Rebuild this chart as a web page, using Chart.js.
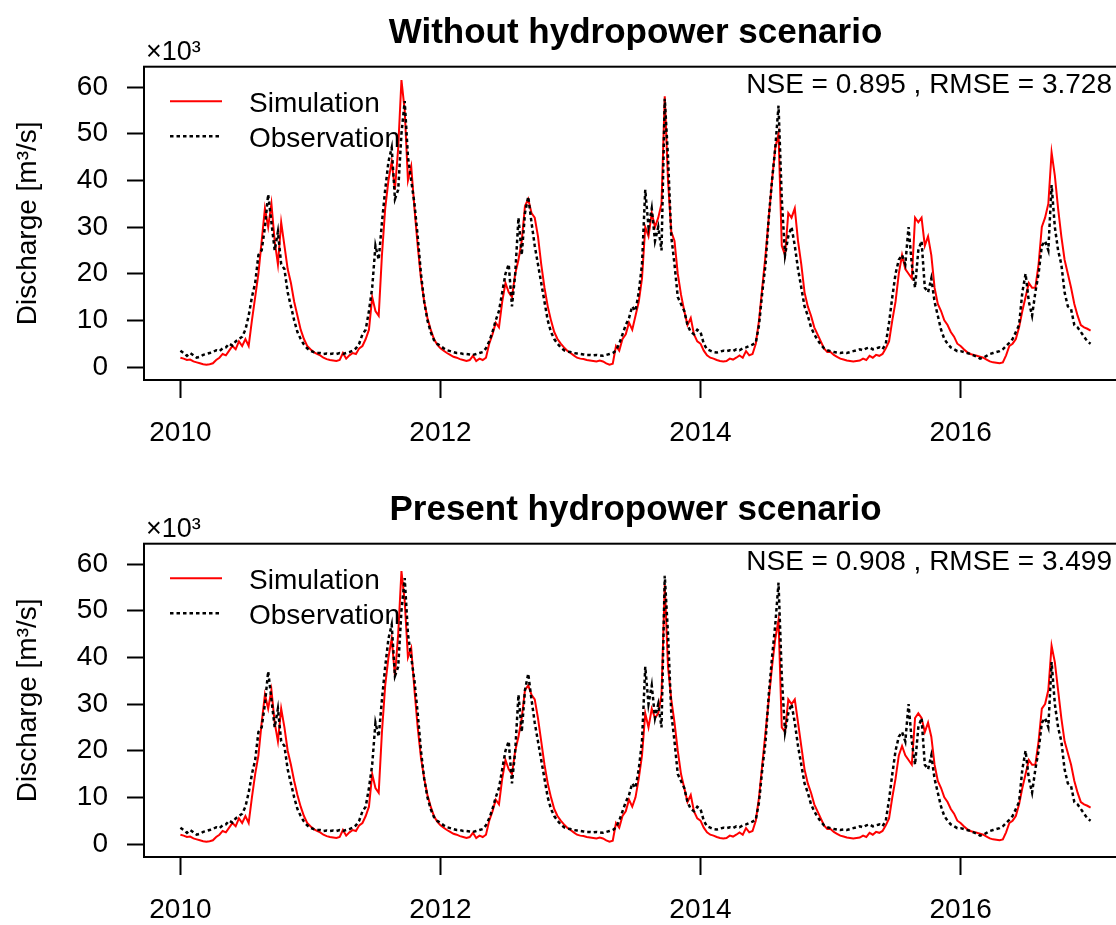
<!DOCTYPE html>
<html>
<head>
<meta charset="utf-8">
<script src="https://cdn.jsdelivr.net/npm/chart.js@4.4.1/dist/chart.umd.min.js"></script>
<style>
  html, body { margin: 0; padding: 0; background: #fff; overflow: hidden; width: 1116px; height: 925px; }
  canvas { position: absolute; left: 0; }
  #topChart { top: 0; }
  #bottomChart { top: 477px; }
</style>
</head>
<body>
<canvas id="topChart" width="1160" height="450"></canvas>
<canvas id="bottomChart" width="1160" height="450"></canvas>
<script>
// discharge in 10^3 m3/s, 40 samples per year from 2010.0, last value is 2017.0
const startYear = 2010;
const samplesPerYear = 40;

const observation = [
  // 2010
  3.5, 3.0, 2.4, 3.0, 2.5, 2.0, 2.2, 2.6, 2.8, 3.0, 3.2, 3.6, 3.4, 4.0, 4.2, 5.0, 4.6, 5.5, 6.0, 6.5,
  8.0, 11, 15, 18, 24, 25, 30, 37, 31, 25, 29, 22, 21, 16, 13, 10, 7.5, 6.0, 4.8, 4.0,
  // 2011
  3.5, 3.2, 3.0, 3.0, 2.8, 2.9, 2.8, 2.9, 2.8, 3.0, 2.8, 3.0, 3.2, 3.5, 4.0, 5.0, 7.0, 8.0, 12, 17,
  26, 23, 31, 38, 44, 47, 36, 38, 50, 57, 45, 40, 35, 28, 20, 14, 10, 7.5, 5.8, 5.0,
  // 2012
  4.5, 4.0, 3.6, 3.4, 3.2, 3.0, 3.0, 2.8, 2.8, 2.7, 2.6, 2.8, 3.0, 3.2, 4.0, 5.5, 7.5, 10, 12, 16,
  20, 22, 13, 20, 32, 24, 33, 36.5, 31, 26, 22, 18, 14, 10, 7.5, 6.0, 5.0, 4.2, 3.6, 3.3,
  // 2013
  3.2, 3.0, 2.9, 2.8, 2.7, 2.6, 2.6, 2.5, 2.6, 2.5, 2.4, 2.6, 2.8, 3.0, 3.5, 5.0, 7.0, 9.0, 10.5, 13,
  12, 16, 22, 38, 30, 34, 27, 30, 25, 57.5, 45, 28, 22, 15, 13.5, 12, 9, 7.5, 7.0, 8.0,
  // 2014
  7.5, 5.0, 3.8, 3.5, 3.2, 3.1, 3.3, 3.5, 3.4, 3.6, 3.4, 3.8, 3.6, 4.0, 4.2, 4.5, 4.8, 5.2, 9.0, 16,
  22, 32, 40, 47, 56, 36, 24, 28, 30, 26, 21, 17, 13, 11, 8.5, 7.0, 5.8, 4.8, 4.0, 3.6,
  // 2015
  3.4, 3.2, 3.1, 3.0, 3.1, 3.0, 3.2, 3.4, 3.6, 3.8, 3.6, 4.0, 4.2, 3.8, 4.0, 4.2, 3.8, 5.0, 9.5, 15,
  20, 23, 24, 22, 30, 22, 17, 25, 27, 17, 16, 19, 14, 11, 8, 6, 5, 4.2, 3.8, 3.4,
  // 2016
  3.4, 3.2, 3.0, 2.8, 2.5, 2.2, 1.8, 2.0, 2.4, 2.8, 3.0, 3.2, 3.4, 3.8, 4.5, 5.2, 6.0, 7.5, 9.0, 16,
  20, 14, 11, 16, 20, 26, 27, 25, 39, 30, 25, 22, 16, 13, 12.4, 9, 8.5, 7.5, 6.5, 5.5,
  // 2017
  5.0
];

const simWithout = [
  // 2010
  2.0, 1.8, 1.5, 1.6, 1.2, 1.0, 0.8, 0.6, 0.5, 0.6, 0.8, 1.5, 2.0, 2.8, 2.5, 3.5, 4.5, 3.8, 5.5, 4.5,
  6.0, 4.5, 10, 15, 20, 27, 34, 30, 35, 27, 22, 31, 26, 21, 18, 14, 11, 8, 6, 4.5,
  // 2011
  3.8, 3.2, 2.8, 2.5, 2.0, 1.7, 1.5, 1.4, 1.3, 1.5, 3.0, 1.8, 2.5, 3.0, 2.8, 4.0, 4.5, 6.0, 8.0, 15,
  12, 11, 24, 34, 40, 44, 38, 47, 61.5, 55, 40, 43, 34, 26, 19, 14, 10.5, 8, 6, 4.8,
  // 2012
  4.0, 3.5, 3.0, 2.6, 2.2, 2.0, 1.7, 1.5, 1.3, 1.5, 2.4, 1.3, 1.8, 1.5, 2.0, 5.0, 7.0, 9.5, 8.5, 14,
  18, 16, 15, 20, 23, 27, 34.5, 36, 33, 32, 28, 22, 17, 13, 10, 7.5, 6, 5, 4.2, 3.5,
  // 2013
  3.0, 2.5, 2.0, 1.8, 1.7, 1.5, 1.4, 1.3, 1.2, 1.4, 1.2, 0.8, 0.5, 0.7, 4.5, 3.5, 6.0, 7.0, 9.5, 8.0,
  11, 14, 19, 30, 28, 33, 30, 32, 35, 58, 40, 29, 27, 20, 15.5, 12, 9, 10.5, 7, 5.5,
  // 2014
  5.0, 3.5, 2.5, 2.0, 1.8, 1.5, 1.3, 1.2, 1.3, 1.8, 1.6, 2.0, 2.5, 2.0, 3.4, 2.5, 2.8, 5.0, 10, 17,
  24, 32, 40, 47, 50, 26, 24, 33, 32, 34, 27, 22, 16, 13, 11, 8.5, 7, 5.5, 4.0, 3.2,
  // 2015
  3.2, 2.6, 2.2, 1.8, 1.6, 1.4, 1.3, 1.2, 1.3, 1.4, 1.8, 1.5, 2.4, 2.0, 2.6, 2.4, 2.8, 4.0, 5.5, 10,
  14, 20, 24, 21, 20, 19, 32, 31, 32, 26, 28, 24, 17, 13.5, 12, 10, 9, 7.5, 6.5, 5,
  // 2016
  4.5, 3.8, 3.2, 2.8, 2.6, 2.4, 2.2, 2.0, 1.6, 1.2, 1.0, 0.9, 0.8, 1.0, 2.5, 4.5, 5.0, 6.0, 8.5, 12,
  15, 18, 17, 17, 22, 30, 32, 35, 46, 41, 34, 28, 23, 20, 17, 13.5, 11, 9, 8.5, 8.2,
  // 2017
  7.8
];

const simPresent = [
  // 2010
  2.0, 1.8, 1.5, 1.6, 1.2, 1.0, 0.8, 0.6, 0.5, 0.6, 0.8, 1.5, 2.0, 2.8, 2.5, 3.5, 4.5, 3.8, 5.5, 4.5,
  6.0, 4.5, 10, 15, 19, 26, 32, 29, 33, 26, 22, 29, 25, 20, 17, 13.5, 10.5, 8, 6, 4.5,
  // 2011
  3.8, 3.2, 2.8, 2.5, 2.0, 1.7, 1.5, 1.4, 1.3, 1.5, 3.0, 1.8, 2.5, 3.0, 2.8, 4.0, 4.5, 6.0, 8.0, 15,
  12, 11, 24, 34, 40, 44, 36, 45, 58.5, 52, 40, 42, 33, 25, 18.5, 14, 10.5, 8, 6, 4.8,
  // 2012
  4.0, 3.5, 3.0, 2.6, 2.2, 2.0, 1.7, 1.5, 1.3, 1.5, 2.4, 1.3, 1.8, 1.5, 2.0, 5.0, 7.0, 9.5, 8.5, 14,
  18, 16, 15, 20, 23, 27, 33, 34, 32, 31, 27, 22, 17, 13, 10, 7.5, 6, 5, 4.2, 3.5,
  // 2013
  3.0, 2.5, 2.0, 1.8, 1.7, 1.5, 1.4, 1.3, 1.2, 1.4, 1.2, 0.8, 0.5, 0.7, 4.5, 3.5, 6.0, 7.0, 9.5, 8.0,
  10, 14, 19, 28, 25, 29, 27, 28, 32, 55.5, 38, 31, 26, 20, 15, 12, 9, 10.5, 7, 5.5,
  // 2014
  5.0, 3.5, 2.5, 2.0, 1.8, 1.5, 1.3, 1.2, 1.3, 1.8, 1.6, 2.0, 2.5, 2.0, 3.4, 2.5, 2.8, 5.0, 10, 17,
  24, 31, 38, 44, 48, 25, 24, 31, 30, 31, 26, 21, 16, 13, 11, 8.5, 7, 5.5, 4.0, 3.2,
  // 2015
  3.2, 2.6, 2.2, 1.8, 1.6, 1.4, 1.3, 1.2, 1.3, 1.4, 1.8, 1.5, 2.4, 2.0, 2.6, 2.4, 2.8, 4.0, 5.5, 10,
  14, 19, 21, 19, 18, 17, 27, 28, 27, 24, 26, 23, 17, 13.5, 12, 10, 9, 7.5, 6.5, 5,
  // 2016
  4.5, 3.8, 3.2, 2.8, 2.6, 2.4, 2.2, 2.0, 1.6, 1.2, 1.0, 0.9, 0.8, 1.0, 2.5, 4.5, 5.0, 6.0, 8.5, 12,
  15, 18, 17, 17, 22, 29, 30, 33, 42.5, 39, 33, 27, 22, 19.5, 17, 13.5, 11, 9, 8.5, 8.2,
  // 2017
  7.8
];

const yearTicks = [2010, 2012, 2014, 2016];
const flowTicks = [0, 10, 20, 30, 40, 50, 60];

const dates = observation.map((v, i) => startYear + i / samplesPerYear);

Chart.defaults.font.family = '"Liberation Sans", Arial, sans-serif';
Chart.defaults.color = '#000';

const FONT = '"Liberation Sans", Arial, sans-serif';

// R style box, title, x10^3 label, NSE text and legend
const panelText = {
  id: 'panelText',
  afterDraw(chart, args, opts) {
    const ctx = chart.ctx;
    const a = chart.chartArea;
    ctx.save();
    ctx.strokeStyle = '#000';
    ctx.lineWidth = 2;
    ctx.strokeRect(a.left, a.top, a.right - a.left, a.bottom - a.top);

    ctx.fillStyle = '#000';
    ctx.textBaseline = 'alphabetic';
    ctx.font = 'bold 35px ' + FONT;
    ctx.textAlign = 'center';
    ctx.fillText(opts.title, (a.left + a.right) / 2, a.top - 24);

    ctx.font = '27px ' + FONT;
    ctx.textAlign = 'left';
    ctx.fillText('×10³', a.left + 2, a.top - 7);

    ctx.font = '28px ' + FONT;
    ctx.textAlign = 'right';
    ctx.fillText(opts.stats, 1112, a.top + 26);

    // legend
    const sets = chart.data.datasets;
    const rows = [sets[1], sets[0]];
    rows.forEach((ds, i) => {
      const y = a.top + 34.5 + i * 35;
      ctx.beginPath();
      ctx.strokeStyle = ds.borderColor;
      ctx.lineWidth = ds.borderWidth;
      ctx.setLineDash(ds.borderDash || []);
      ctx.moveTo(a.left + 26, y);
      ctx.lineTo(a.left + 78, y);
      ctx.stroke();
      ctx.setLineDash([]);
      ctx.textAlign = 'left';
      ctx.fillText(ds.label, a.left + 105, y + 11);
    });
    ctx.restore();
  }
};

function makePanel(id, title, stats, simValues) {
  return new Chart(document.getElementById(id), {
    type: 'line',
    data: {
      datasets: [
        {
          label: 'Observation',
          data: dates.map((x, i) => ({ x: x, y: observation[i] })),
          borderColor: '#000',
          borderWidth: 2.5,
          borderDash: [3.5, 3],
          pointRadius: 0,
          tension: 0
        },
        {
          label: 'Simulation',
          data: dates.map((x, i) => ({ x: x, y: simValues[i] })),
          borderColor: '#ff0000',
          borderWidth: 2,
          pointRadius: 0,
          tension: 0
        }
      ]
    },
    options: {
      responsive: false,
      animation: false,
      devicePixelRatio: 1,
      layout: { padding: { left: 0, top: 66.7, right: 33, bottom: 0 } },
      plugins: {
        legend: { display: false },
        tooltip: { enabled: false },
        title: { display: false },
        panelText: { title: title, stats: stats }
      },
      scales: {
        x: {
          type: 'linear',
          min: 2009.72,
          max: 2017.28,
          afterBuildTicks: s => { s.ticks = yearTicks.map(v => ({ value: v })); },
          afterFit: s => { s.height = 70; },
          ticks: { font: { size: 28 }, color: '#000', padding: 18, maxRotation: 0, callback: v => String(v) },
          grid: { display: true, drawOnChartArea: false, drawTicks: true, tickLength: 18, tickWidth: 2, tickColor: '#000' },
          border: { display: false }
        },
        y: {
          min: -2.78,
          max: 64.36,
          afterBuildTicks: s => { s.ticks = flowTicks.map(v => ({ value: v })); },
          afterFit: s => { s.width = 144; },
          ticks: { font: { size: 28 }, color: '#000', padding: 19 },
          grid: { display: true, drawOnChartArea: false, drawTicks: true, tickLength: 17, tickWidth: 2, tickColor: '#000' },
          border: { display: false },
          title: { display: true, text: 'Discharge [m³/s]', font: { size: 28 }, color: '#000', padding: { top: 11, bottom: 0 } }
        }
      }
    },
    plugins: [panelText]
  });
}

makePanel('topChart', 'Without hydropower scenario', 'NSE = 0.895 , RMSE = 3.728', simWithout);
makePanel('bottomChart', 'Present hydropower scenario', 'NSE = 0.908 , RMSE = 3.499', simPresent);
</script>
</body>
</html>
